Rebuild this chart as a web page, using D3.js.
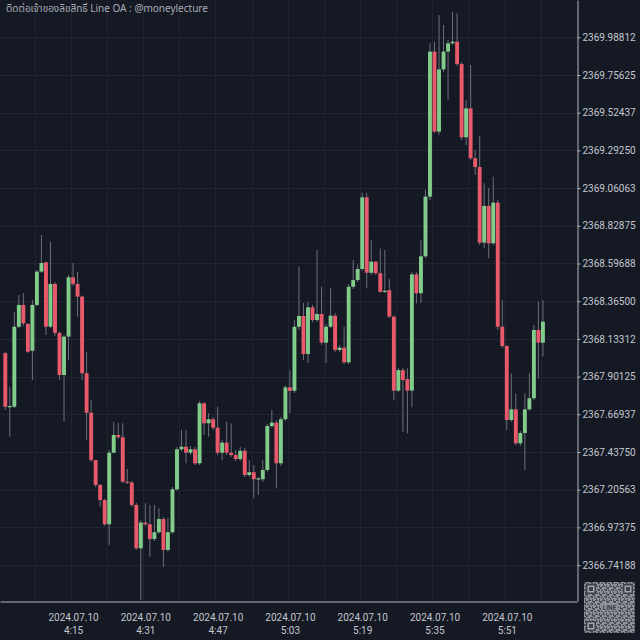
<!DOCTYPE html>
<html><head><meta charset="utf-8">
<script src="https://cdn.jsdelivr.net/npm/d3@7/dist/d3.min.js"></script>
<style>
html,body{margin:0;padding:0;background:#151924;}
svg{display:block;}
</style></head>
<body>
<svg id="chart" width="640" height="640"></svg>
<script>
// ---------- DATA ----------
const titleText = "ติดต่อเจ้าของลิขสิทธิ์ Line OA : @moneylecture";
const dateLabel = "2024.07.10";
const startTime = "2024-07-10T04:00:00"; // first 1-minute candle
const xTickLabels = ["4:15","4:31","4:47","5:03","5:19","5:35","5:51"];
const yTickValues = [2366.74188,2366.97375,2367.20563,2367.43750,2367.66937,2367.90125,2368.13312,2368.36500,2368.59688,2368.82875,2369.06063,2369.29250,2369.52437,2369.75625,2369.98812];

const opens = [2368.045,2367.716,2367.716,2368.208,2368.342,2368.225,2368.060,2368.342,2368.547,2368.604,
2368.208,2368.471,2368.170,2367.911,2368.147,2368.512,2368.471,2368.393,2367.922,2367.679,
2367.388,2367.235,2367.142,2366.993,2367.433,2367.542,2367.528,2367.255,2367.250,2367.112,
2366.845,2367.003,2366.993,2366.902,2366.944,2367.025,2366.835,2366.944,2367.208,2367.454,
2367.470,2367.433,2367.454,2367.368,2367.737,2367.614,2367.639,2367.587,2367.433,2367.495,
2367.433,2367.419,2367.394,2367.445,2367.296,2367.313,2367.270,2367.270,2367.327,2367.597,
2367.618,2367.368,2367.639,2367.835,2367.814,2368.208,2368.274,2368.040,2368.327,2368.249,
2368.286,2368.110,2368.208,2368.276,2368.065,2368.079,2367.989,2368.454,2368.495,2368.563,
2369.004,2368.540,2368.608,2368.537,2368.423,2368.433,2368.270,2367.815,2367.941,2367.886,
2367.815,2368.530,2368.414,2368.641,2369.008,2369.900,2369.408,2369.791,2369.900,2369.951,
2369.961,2369.824,2369.373,2369.551,2369.244,2369.190,2368.725,2368.951,2368.721,2368.971,
2368.208,2368.089,2367.634,2367.700,2367.491,2367.554,2367.700,2367.768,2368.188,2368.110];
const highs = [2368.054,2367.839,2368.300,2368.403,2368.414,2368.232,2368.372,2368.557,2368.772,2368.610,
2368.731,2368.483,2368.180,2368.157,2368.526,2368.600,2368.547,2368.400,2368.054,2367.757,
2367.390,2367.240,2367.150,2367.450,2367.624,2367.616,2367.614,2367.333,2367.260,2367.124,
2367.019,2367.122,2367.112,2367.112,2367.091,2367.038,2367.032,2367.222,2367.468,2367.573,
2367.573,2367.474,2367.468,2367.751,2367.745,2367.677,2367.653,2367.716,2367.511,2367.624,
2367.614,2367.450,2367.468,2367.462,2367.388,2367.357,2367.285,2367.388,2367.610,2367.696,
2367.634,2367.653,2367.849,2367.941,2368.249,2368.577,2368.354,2368.360,2368.342,2368.680,
2368.454,2368.225,2368.446,2368.292,2368.095,2368.208,2368.471,2368.618,2368.590,2369.032,
2369.032,2368.741,2368.612,2368.689,2368.680,2368.502,2368.278,2367.954,2367.954,2367.952,
2368.545,2368.545,2368.741,2369.049,2369.951,2369.961,2370.125,2370.064,2369.971,2370.146,
2370.136,2369.836,2369.603,2369.818,2369.295,2369.381,2369.090,2369.061,2369.131,2368.987,
2368.372,2368.095,2367.921,2367.798,2367.567,2367.798,2367.921,2368.219,2368.362,2368.372];
const lows = [2367.696,2367.532,2367.708,2368.200,2368.212,2368.047,2367.880,2368.335,2368.538,2368.157,
2368.200,2368.151,2367.880,2367.624,2368.003,2368.458,2368.270,2367.880,2367.511,2367.376,
2367.222,2367.101,2366.982,2366.866,2367.430,2367.517,2367.247,2367.241,2367.099,2366.835,
2366.527,2366.982,2366.794,2366.890,2366.933,2366.730,2366.823,2366.933,2367.197,2367.443,
2367.368,2367.419,2367.357,2367.357,2367.542,2367.532,2367.573,2367.419,2367.388,2367.419,
2367.407,2367.382,2367.382,2367.284,2367.284,2367.153,2367.173,2367.253,2367.315,2367.585,
2367.214,2367.351,2367.628,2367.677,2367.800,2368.188,2368.003,2367.985,2368.237,2368.237,
2368.095,2367.985,2368.200,2368.052,2368.052,2367.978,2367.978,2368.440,2368.483,2368.551,
2368.444,2368.526,2368.526,2368.415,2368.415,2368.262,2367.757,2367.807,2367.562,2367.552,
2367.712,2368.352,2368.354,2368.630,2368.987,2369.398,2369.388,2369.775,2369.603,2369.941,
2369.811,2369.356,2369.326,2369.233,2369.141,2368.711,2368.693,2368.629,2368.711,2368.188,
2368.077,2367.573,2367.622,2367.480,2367.474,2367.327,2367.690,2367.757,2367.891,2368.024];
const closes = [2367.716,2367.720,2368.208,2368.342,2368.229,2368.054,2368.342,2368.547,2368.600,2368.208,
2368.471,2368.170,2367.911,2368.147,2368.512,2368.471,2368.393,2367.922,2367.679,2367.388,
2367.235,2367.142,2366.993,2367.433,2367.542,2367.528,2367.255,2367.250,2367.112,2366.845,
2367.003,2366.993,2366.902,2366.944,2367.025,2366.835,2366.944,2367.208,2367.454,2367.470,
2367.433,2367.454,2367.368,2367.737,2367.614,2367.639,2367.587,2367.433,2367.495,2367.433,
2367.419,2367.394,2367.445,2367.296,2367.313,2367.270,2367.275,2367.327,2367.597,2367.618,
2367.368,2367.639,2367.835,2367.814,2368.208,2368.274,2368.040,2368.327,2368.249,2368.286,
2368.110,2368.208,2368.276,2368.065,2368.079,2367.989,2368.454,2368.495,2368.563,2369.004,
2368.540,2368.608,2368.537,2368.423,2368.429,2368.270,2367.815,2367.941,2367.880,2367.815,
2368.530,2368.414,2368.641,2369.008,2369.900,2369.408,2369.791,2369.900,2369.951,2369.961,
2369.824,2369.373,2369.551,2369.244,2369.190,2368.725,2368.951,2368.721,2368.971,2368.208,
2368.089,2367.634,2367.700,2367.491,2367.554,2367.700,2367.768,2368.188,2368.110,2368.239];

// ---------- LAYOUT ----------
const plotRight = 577, plotBottom = 601;
const upColor = "#82cc8b", downColor = "#e8596b";
const wickColor = "#6c707b", gridColor = "#212532", axisColor = "#b4b7bf", textColor = "#c4c7ce";
const MIN = 60000;
const t0 = new Date(startTime);
const candles = opens.map((o,i)=>({t:new Date(t0.getTime()+i*MIN), o, h:highs[i], l:lows[i], c:closes[i]}));

const svg = d3.select("#chart");
svg.append("rect").attr("width",640).attr("height",640).attr("fill","#151924");

const x = d3.scaleTime()
  .domain([new Date(t0.getTime()-1.17*MIN), new Date(t0.getTime()+126.54*MIN)])
  .range([0, plotRight]);
const y = d3.scaleLinear().domain([2366.5210, 2370.2175]).range([plotBottom, 0]);

// grid
const gridG = svg.append("g");
gridG.selectAll("line.h").data(yTickValues).join("line")
  .attr("x1",0).attr("x2",plotRight)
  .attr("y1",d=>Math.round(y(d))+0.5).attr("y2",d=>Math.round(y(d))+0.5)
  .attr("stroke",gridColor).attr("stroke-width",1);
const vGridTimes = [];
for (let m = 7; m < 127; m += 8) vGridTimes.push(new Date(t0.getTime() + (m-0.5)*MIN));
gridG.selectAll("line.v").data(vGridTimes).join("line")
  .attr("x1",d=>Math.round(x(d))+0.5).attr("x2",d=>Math.round(x(d))+0.5)
  .attr("y1",0).attr("y2",plotBottom)
  .attr("stroke",gridColor).attr("stroke-width",1);

// candles
const bw = 3.9;
const cg = svg.append("g");
cg.selectAll("line.wick").data(candles).join("line")
  .attr("x1",d=>x(d.t)).attr("x2",d=>x(d.t))
  .attr("y1",d=>y(d.h)).attr("y2",d=>y(d.l))
  .attr("stroke",wickColor).attr("stroke-width",1);
cg.selectAll("rect.body").data(candles).join("rect")
  .attr("x",d=>x(d.t)-bw/2).attr("width",bw)
  .attr("y",d=>y(Math.max(d.o,d.c)))
  .attr("height",d=>Math.max(1.2, Math.abs(y(d.o)-y(d.c))))
  .attr("fill",d=>d.c>=d.o?upColor:downColor);

// y axis
const yAxis = d3.axisRight(y).tickValues(yTickValues).tickFormat(d3.format(".5f")).tickSize(3).tickSizeOuter(0);
const yg = svg.append("g").attr("transform",`translate(${plotRight+0.5},0)`).call(yAxis);
yg.select(".domain").attr("stroke",axisColor);
yg.selectAll(".tick line").attr("stroke",axisColor);
yg.selectAll(".tick text").attr("fill",textColor).attr("x",5)
  .style("font-family","Roboto, 'Noto Sans', sans-serif").style("font-size","10px");

// x axis
const xTickDates = xTickLabels.map(s=>{const [hh,mm]=s.split(":").map(Number); const d=new Date(t0); d.setHours(hh,mm,0,0); return d;});
const xAxis = d3.axisBottom(x).tickValues(xTickDates).tickSize(0).tickSizeOuter(0).tickFormat("");
const xg = svg.append("g").attr("transform",`translate(0,${plotBottom+0.5})`).call(xAxis);
xg.select(".domain").attr("stroke",axisColor);
xg.selectAll(".tick text").each(function(d,i){
  const t = d3.select(this).attr("fill",textColor).attr("y",0).attr("dy",null)
    .style("font-family","Roboto, 'Noto Sans', sans-serif").style("font-size","10px");
  t.append("tspan").attr("x",0).attr("y",19).text(dateLabel);
  t.append("tspan").attr("x",0).attr("y",32).text(xTickLabels[i]);
});

// title
svg.append("text").attr("x",6).attr("y",12).attr("fill","#a8acb5")
  .style("font-family","'Noto Sans Thai','Noto Sans', Roboto, sans-serif").style("font-size","10px")
  .text(titleText);

// QR-like badge
const defs = svg.append("defs");
const pat = defs.append("pattern").attr("id","qrp").attr("width",7).attr("height",7).attr("patternUnits","userSpaceOnUse");
pat.append("rect").attr("width",7).attr("height",7).attr("fill","#8d9099");
[[0,0,2,2],[3,1,2,1],[1,3,1,3],[4,4,3,1],[5,2,1,2],[2,5,2,2],[6,0,1,1]].forEach(r=>
  pat.append("rect").attr("x",r[0]).attr("y",r[1]).attr("width",r[2]).attr("height",r[3]).attr("fill","#4a4d56"));
const qr = svg.append("g").attr("transform","translate(584,582)");
qr.append("rect").attr("width",51).attr("height",51).attr("fill","url(#qrp)");
[[2,2],[39,2],[2,39]].forEach(p=>{
  qr.append("rect").attr("x",p[0]).attr("y",p[1]).attr("width",10).attr("height",10).attr("fill","#3d4049");
  qr.append("rect").attr("x",p[0]+1.5).attr("y",p[1]+1.5).attr("width",7).attr("height",7).attr("fill","#a3a6ae");
  qr.append("rect").attr("x",p[0]+3).attr("y",p[1]+3).attr("width",4).attr("height",4).attr("fill","#3d4049");
});
qr.append("rect").attr("x",17).attr("y",21).attr("width",17).attr("height",8).attr("fill","#8d9099");
qr.append("text").attr("x",25.5).attr("y",27.5).attr("text-anchor","middle").attr("fill","#3d4049")
  .style("font-family","Roboto, sans-serif").style("font-size","6.5px").style("font-weight","bold").text("LINE");
</script>
</body></html>
